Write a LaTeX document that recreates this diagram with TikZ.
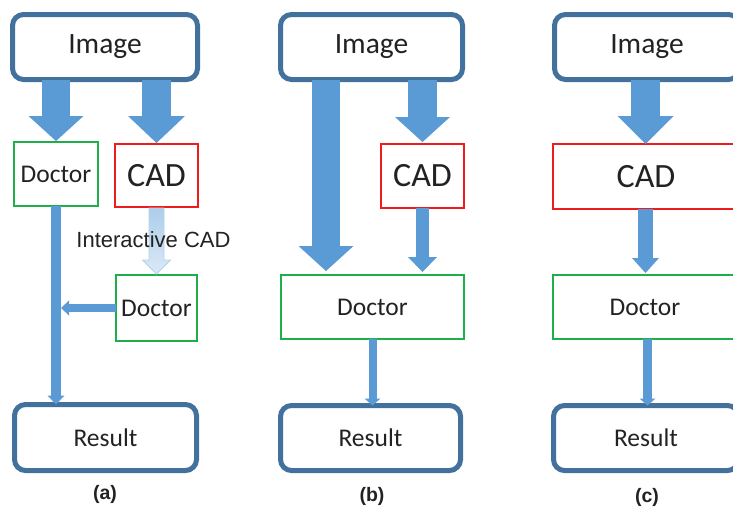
\documentclass[tikz,border=0pt]{standalone}
\usepackage{fontspec}
\setmainfont{Carlito}
\newfontfamily\arialfont{Liberation Sans}
\usetikzlibrary{arrows.meta,calc}
\definecolor{boxblue}{HTML}{41719C}
\definecolor{arrblue}{HTML}{5B9BD5}
\definecolor{grn}{HTML}{1DB04A}
\definecolor{rdd}{HTML}{EE1C1C}
\definecolor{txt}{HTML}{222222}
\begin{document}
\begin{tikzpicture}[x=1pt,y=-1pt,
  rbox/.style={draw=boxblue,line width=5pt,rounded corners=11pt,fill=white,inner sep=0pt,outer sep=0pt,text=txt},
  gbox/.style={draw=grn,line width=2.5pt,fill=white,inner sep=0pt,outer sep=0pt,text=txt,font=\fontsize{25.5}{30}\selectfont},
  rdbox/.style={draw=rdd,line width=2.5pt,fill=white,inner sep=0pt,outer sep=0pt,text=txt,font=\fontsize{34}{40}\selectfont},
  imgfont/.style={font=\fontsize{29.5}{34}\selectfont},
  resfont/.style={font=\fontsize{25.5}{30}\selectfont},
  blk/.style n args={3}{draw=arrblue,line width=#1,-{Triangle[width=#2,length=#3,line width=0pt]}},
  lbl/.style={font=\arialfont\bfseries\fontsize{19.5}{22}\selectfont,text=txt}
]
\useasboundingbox (0,0) rectangle (733,512);
\clip (0,0) rectangle (733,512);
\fill[white] (0,0) rectangle (733,512);

% ---------------- nodes (a) ----------------
\node[rbox,imgfont,minimum width=185pt,minimum height=65pt] (imga) at (105,47) {Image};
\node[gbox,minimum width=84pt,minimum height=64pt] (doca1) at (56,174) {Doctor};
\node[rdbox,minimum width=83pt,minimum height=63pt] (cada) at (156.5,175.5) {CAD};
\node[gbox,minimum width=81pt,minimum height=66pt] (doca2) at (156.5,308) {Doctor};
\node[rbox,resfont,minimum width=182pt,minimum height=66pt] (resa) at (105.5,437.5) {Result};
\node[lbl] (la) at (105,494) {(a)};

% ---------------- nodes (b) ----------------
\node[rbox,imgfont,minimum width=182pt,minimum height=65pt] (imgb) at (371.5,47) {Image};
\node[rdbox,minimum width=83pt,minimum height=64pt] (cadb) at (422.5,176) {CAD};
\node[gbox,minimum width=183pt,minimum height=64pt] (docb) at (372.5,307) {Doctor};
\node[rbox,resfont,minimum width=180pt,minimum height=65pt] (resb) at (370.5,438) {Result};
\node[lbl] (lb) at (372,496) {(b)};

% ---------------- nodes (c) ----------------
\node[rbox,imgfont,minimum width=185pt,minimum height=65pt] (imgc) at (647,47) {Image};
\node[rdbox,minimum width=186pt,minimum height=65pt] (cadc) at (646,176.5) {CAD};
\node[gbox,minimum width=184pt,minimum height=64pt] (docc) at (645,307) {Doctor};
\node[rbox,resfont,minimum width=185pt,minimum height=65pt] (resc) at (646,438) {Result};
\node[lbl] (lc) at (647,497) {(c)};

% ---------------- connectors (a) ----------------
\coordinate (join) at ($(doca1.south |- doca2.west)+(5,0)$);
\draw[blk={28pt}{55pt}{25pt}] (imga.south -| doca1.north) -- ([yshift=1pt]doca1.north);
\draw[blk={29pt}{57pt}{27pt}] (imga.south -| cada.north) -- ([yshift=1pt]cada.north);
\draw[blk={9.5pt}{17pt}{9pt}] (doca1.south) -- (doca1.south |- resa.north);
\draw[blk={8pt}{15pt}{8pt}] (doca2.west) -- (join);
% interactive CAD (faded) arrow
\coordinate (iaT) at (cada.south);
\coordinate (iaB) at (doca2.north);
\path[top color=arrblue!50,bottom color=arrblue!22,draw=arrblue!45,line width=0.8pt]
  ($(iaT)+(-7.5,1)$) -- ($(iaB)+(-7.5,-15)$) -- ($(iaB)+(-14,-15)$) -- ($(iaB)+(0,-1)$)
  -- ($(iaB)+(14,-15)$) -- ($(iaB)+(7.5,-15)$) -- ($(iaT)+(7.5,1)$) -- cycle;
\node[font=\arialfont\fontsize{22}{26}\selectfont,text=txt] (iatext) at (153.5,240) {Interactive CAD};

% ---------------- connectors (b) ----------------
\coordinate (bL) at (326,0);
\draw[blk={28pt}{55pt}{25pt}] (imgb.south -| bL) -- ([yshift=4pt]docb.north -| bL);
\draw[blk={29pt}{55pt}{25pt}] (imgb.south -| cadb.north) -- ([yshift=2pt]cadb.north);
\draw[blk={13pt}{29pt}{15pt}] (cadb.south) -- ([yshift=3pt]docb.north -| cadb.south);
\draw[blk={8pt}{16pt}{7pt}] (docb.south) -- (docb.south |- resb.north);

% ---------------- connectors (c) ----------------
\coordinate (cA) at (645.5,0);
\coordinate (cB) at (647.5,0);
\draw[blk={29pt}{56pt}{28pt}] (imgc.south -| cA) -- (cadc.north -| cA);
\draw[blk={15pt}{27pt}{15pt}] (cadc.south -| cA) -- ([yshift=2pt]docc.north -| cA);
\draw[blk={9pt}{16pt}{7pt}] (docc.south -| cB) -- (resc.north -| cB);
\end{tikzpicture}
\end{document}
